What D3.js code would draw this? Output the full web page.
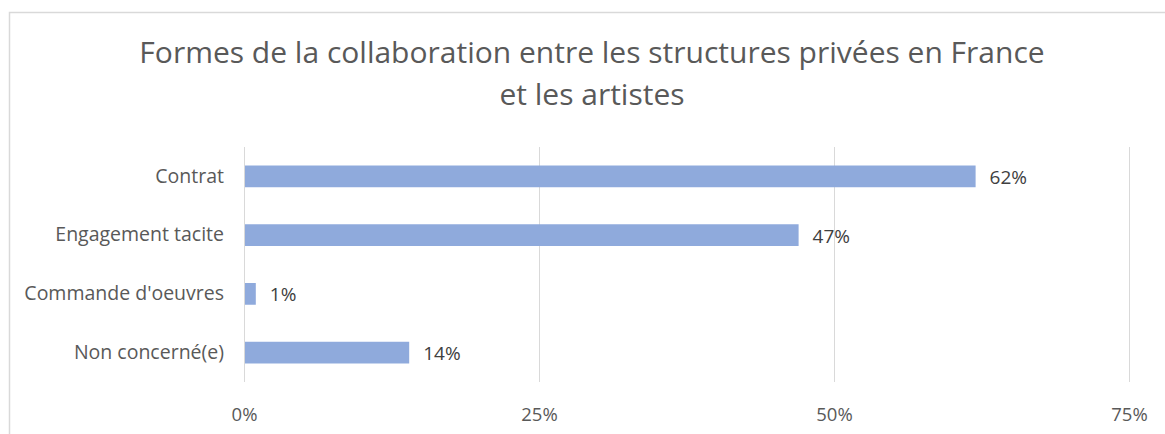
<!DOCTYPE html>
<html>
<head>
<meta charset="utf-8">
<script src="https://cdn.jsdelivr.net/npm/d3@7"></script>
<style>
  body { margin: 0; background: #fff; }
  text { font-family: "Open Sans", sans-serif; }
</style>
</head>
<body>
<svg id="chart" width="1165" height="434"></svg>
<script>
// data
var categories = ["Contrat", "Engagement tacite", "Commande d'oeuvres", "Non concerné(e)"];
var values = [62, 47, 1, 14];
var ticks = [0, 25, 50, 75];
var titleLines = ["Formes de la collaboration entre les structures privées en France", "et les artistes"];

var svg = d3.select("#chart"),
    margin = {top: 147, right: 36, bottom: 52, left: 244},
    width = +svg.attr("width") - margin.left - margin.right,
    height = +svg.attr("height") - margin.top - margin.bottom;

// frame
svg.append("path")
    .attr("d", "M9.5,434 V12.5 H1165")
    .attr("fill", "none")
    .attr("stroke", "#d9d9d9")
    .attr("stroke-width", 1.5);

// title
svg.append("g").selectAll("text")
    .data(titleLines)
  .enter().append("text")
    .attr("x", 592)
    .attr("y", function(d, i) { return 63 + i * 42; })
    .attr("text-anchor", "middle")
    .attr("font-size", 30)
    .attr("fill", "#595959")
    .text(function(d) { return d; });

var g = svg.append("g").attr("transform", "translate(" + margin.left + "," + margin.top + ")");

var x = d3.scaleLinear()
    .domain([0, 75])
    .range([0, 885]);

var y = d3.scaleBand()
    .domain(categories)
    .range([0, 235])
    .paddingInner(0.63)
    .paddingOuter(0.315);

// gridlines
g.append("g")
    .selectAll("line")
    .data(ticks)
  .enter().append("line")
    .attr("x1", function(d) { return x(d) + 0.5; })
    .attr("x2", function(d) { return x(d) + 0.5; })
    .attr("y1", 0)
    .attr("y2", 235)
    .attr("stroke", "#d9d9d9")
    .attr("stroke-width", 1);

// x axis labels
g.append("g")
    .attr("transform", "translate(0,235)")
    .call(d3.axisBottom(x).tickValues(ticks).tickSize(0).tickPadding(26).tickFormat(function(d) { return d + "%"; }))
    .call(function(a) { a.select(".domain").remove(); })
    .selectAll("text")
      .attr("font-size", 18.5)
      .attr("fill", "#595959")
      .style("font-family", "Open Sans, sans-serif");

// y axis labels
g.append("g")
    .call(d3.axisLeft(y).tickSize(0).tickPadding(20))
    .call(function(a) { a.select(".domain").remove(); })
    .selectAll("text")
      .attr("font-size", 19.5)
      .attr("fill", "#595959")
      .style("font-family", "Open Sans, sans-serif");

// bars
g.selectAll(".bar")
    .data(values)
  .enter().append("rect")
    .attr("class", "bar")
    .attr("x", x(0) + 1)
    .attr("y", function(d, i) { return y(categories[i]); })
    .attr("width", function(d) { return x(d) - x(0) - 1; })
    .attr("height", y.bandwidth())
    .attr("fill", "#8faadc");

// value labels
g.selectAll(".val")
    .data(values)
  .enter().append("text")
    .attr("class", "val")
    .attr("x", function(d) { return x(d) + 14; })
    .attr("y", function(d, i) { return y(categories[i]) + y.bandwidth() / 2; })
    .attr("dy", "0.4em")
    .attr("font-size", 19)
    .attr("fill", "#404040")
    .text(function(d) { return d + "%"; });
</script>
</body>
</html>
